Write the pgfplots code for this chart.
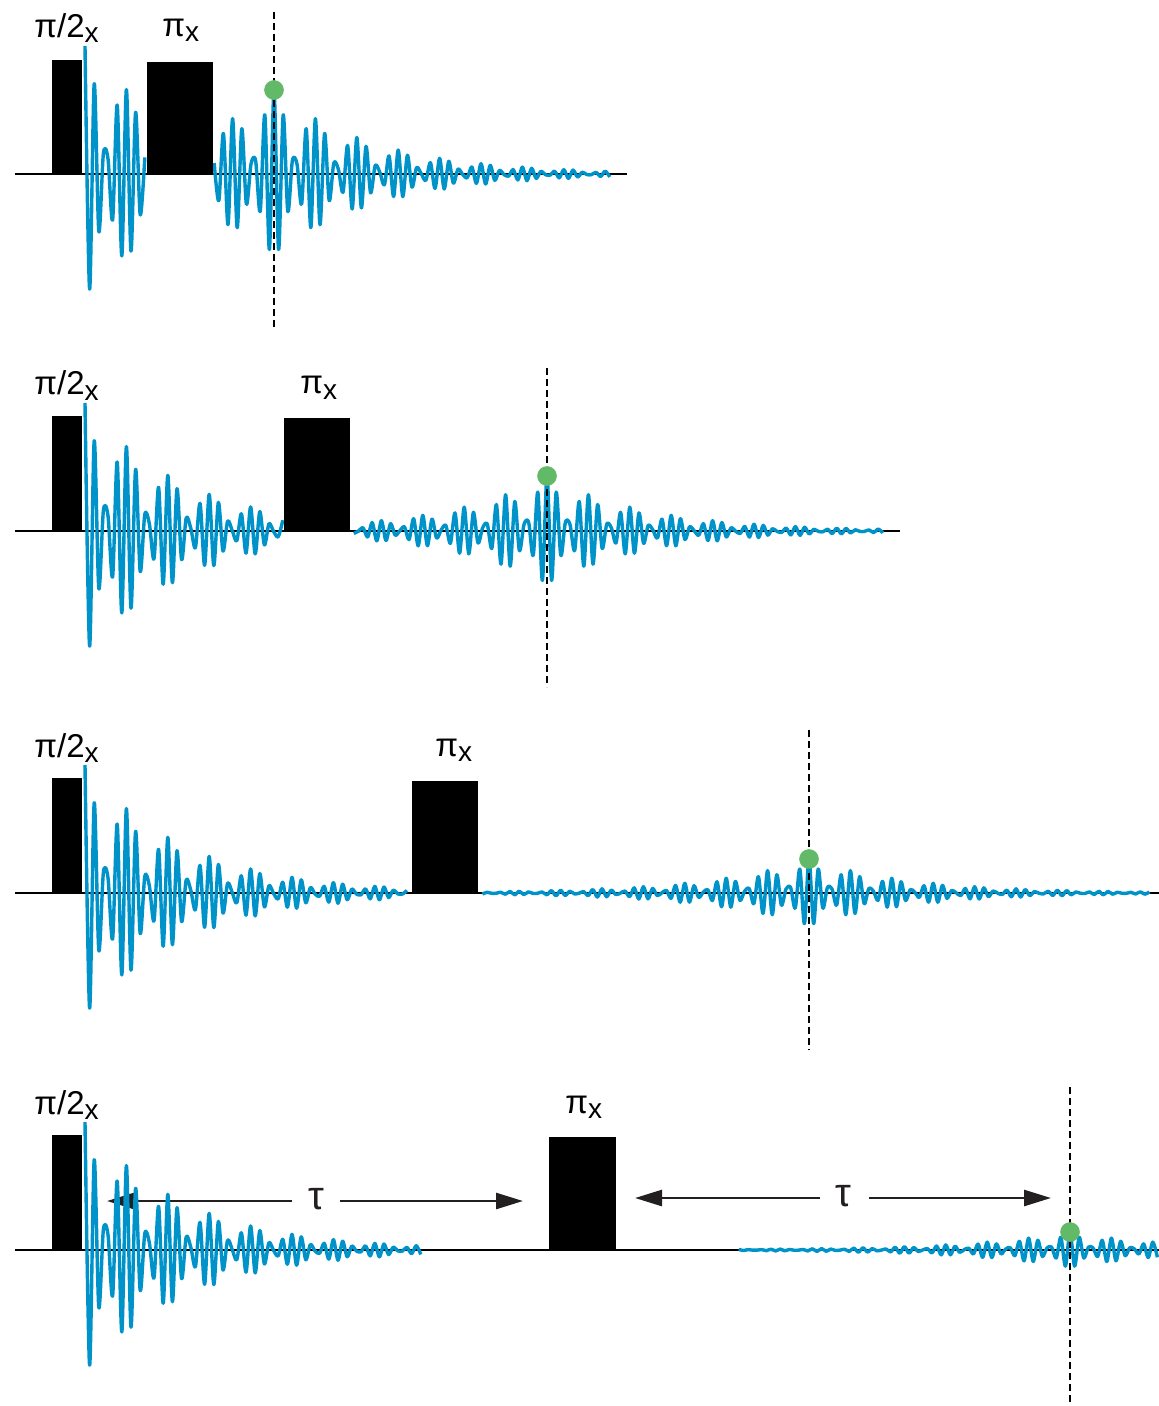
\documentclass[border=0pt]{standalone}
\usepackage{fontspec}
\setmainfont{Liberation Sans}
\usepackage{pgfplots}
\pgfplotsset{compat=1.18}
\usepackage{pgfplotstable}
\usetikzlibrary{arrows.meta}
\definecolor{sig}{RGB}{0,147,201}
\definecolor{dotc}{RGB}{98,186,104}
\definecolor{arr}{RGB}{35,31,32}
\newcommand\lbl{\fontsize{16.5}{19}\selectfont}
\newcommand\taufont{\fontsize{20}{22}\selectfont}
\newcommand\sub[1]{\raisebox{-2.5pt}{\fontsize{14}{16}\selectfont #1}}
\pgfplotstableread[row sep=\\]{
t v\\
-345 -0.025\\ -340.4 0.031\\ -335.8 -0.035\\ -331.2 0.034\\ -326.6 -0.029\\ -322 0.020\\
-317.4 -0.008\\ -312.8 -0.007\\ -308.2 0.022\\ -303.6 -0.036\\ -299 0.047\\ -294.4 -0.053\\
-289.8 0.052\\ -285.2 -0.046\\ -280.6 0.033\\ -276 -0.014\\ -271.4 -0.008\\ -266.8 0.031\\
-262.2 -0.053\\ -257.6 0.069\\ -253 -0.080\\ -248.4 0.081\\ -243.8 -0.071\\ -239.2 0.053\\
-234.6 -0.026\\ -230 -0.007\\ -225.4 0.043\\ -220.8 -0.076\\ -216.2 0.103\\ -211.6 -0.119\\
-207 0.123\\ -202.4 -0.111\\ -197.8 0.084\\ -193.2 -0.045\\ -188.6 -0.004\\ -184 0.058\\
-179.4 -0.109\\ -174.8 0.152\\ -170.2 -0.179\\ -165.6 0.188\\ -161 -0.173\\ -156.4 0.135\\
-151.8 -0.077\\ -147.2 0.004\\ -142.6 0.077\\ -138 -0.157\\ -133.4 0.224\\ -128.8 -0.270\\
-124.2 0.286\\ -119.6 -0.268\\ -115 0.216\\ -110.4 -0.130\\ -105.8 0.021\\ -101.2 0.102\\
-96.6 -0.224\\ -92 0.330\\ -87.4 -0.404\\ -82.8 0.435\\ -78.2 -0.416\\ -73.6 0.341\\
-69 -0.218\\ -64.4 0.055\\ -59.8 0.130\\ -55.2 -0.317\\ -50.6 0.482\\ -46 -0.603\\
-41.4 0.660\\ -36.8 -0.640\\ -32.2 0.539\\ -27.6 -0.360\\ -23 0.119\\ -18.4 0.161\\
-13.8 -0.447\\ -9.2 0.705\\ -4.6 -0.899\\
0 1.000\\
4.6 -0.899\\ 9.2 0.705\\ 13.8 -0.447\\ 18.4 0.161\\ 23 0.119\\ 27.6 -0.360\\
32.2 0.539\\ 36.8 -0.640\\ 41.4 0.660\\ 46 -0.603\\ 50.6 0.482\\ 55.2 -0.317\\
59.8 0.130\\ 64.4 0.055\\ 69 -0.218\\ 73.6 0.341\\ 78.2 -0.416\\ 82.8 0.435\\
87.4 -0.404\\ 92 0.330\\ 96.6 -0.224\\ 101.2 0.102\\ 105.8 0.021\\ 110.4 -0.130\\
115 0.216\\ 119.6 -0.268\\ 124.2 0.286\\ 128.8 -0.270\\ 133.4 0.224\\ 138 -0.157\\
142.6 0.077\\ 147.2 0.004\\ 151.8 -0.077\\ 156.4 0.135\\ 161 -0.173\\ 165.6 0.188\\
170.2 -0.179\\ 174.8 0.152\\ 179.4 -0.109\\ 184 0.058\\ 188.6 -0.004\\ 193.2 -0.045\\
197.8 0.084\\ 202.4 -0.111\\ 207 0.123\\ 211.6 -0.119\\ 216.2 0.103\\ 220.8 -0.076\\
225.4 0.043\\ 230 -0.007\\ 234.6 -0.026\\ 239.2 0.053\\ 243.8 -0.071\\ 248.4 0.081\\
253 -0.080\\ 257.6 0.069\\ 262.2 -0.053\\ 266.8 0.031\\ 271.4 -0.008\\ 276 -0.014\\
280.6 0.033\\ 285.2 -0.046\\ 289.8 0.052\\ 294.4 -0.053\\ 299 0.047\\ 303.6 -0.036\\
308.2 0.022\\ 312.8 -0.007\\ 317.4 -0.008\\ 322 0.020\\ 326.6 -0.029\\ 331.2 0.034\\
335.8 -0.035\\ 340.4 0.031\\ 345 -0.025\\
}\echo
\begin{document}
\begin{tikzpicture}
\begin{axis}[
  width=579.5pt, height=703pt, scale only axis,
  xmin=0, xmax=1159, ymin=0, ymax=1406, y dir=reverse,
  hide axis, clip=false,
  sigline/.style={sig, line width=1.7pt, line join=round, smooth},
  base/.style={black, line width=1pt},
  pulse/.style={fill=black, draw=none},
  dline/.style={black, line width=0.8pt, dash pattern=on 3.5pt off 2pt},
  echodot/.style={only marks, mark=*, mark size=4.7pt, mark options={fill=dotc, draw=dotc}},
]
% ---------- panel 1 ----------
\addplot[base] coordinates {(15,174) (627,174)};
\addplot[sigline, restrict expr to domain={\thisrow{t}}{-0.1:60}] table[x expr=85+\thisrow{t}, y expr=174-128*\thisrow{v}] {\echo};
\addplot[sigline, restrict expr to domain={\thisrow{t}}{-61:336}] table[x expr=274+\thisrow{t}, y expr=174-84*\thisrow{v}] {\echo};
\addplot[pulse] coordinates {(52,174) (52,60) (82,60) (82,174)} --cycle;
\addplot[pulse] coordinates {(147,174) (147,62) (213,62) (213,174)} --cycle;
\addplot[dline] coordinates {(274,12) (274,330)};
\addplot[echodot] coordinates {(274,90)};
\node[anchor=base west, inner sep=0pt, font=\lbl] at (axis cs:34,38) {π/2\sub{x}};
\node[anchor=base west, inner sep=0pt, font=\lbl] at (axis cs:162,37) {π\sub{x}};
% ---------- panel 2 ----------
\addplot[base] coordinates {(15,531) (900,531)};
\addplot[sigline, restrict expr to domain={\thisrow{t}}{-0.1:198}] table[x expr=85+\thisrow{t}, y expr=531-128*\thisrow{v}] {\echo};
\addplot[sigline, restrict expr to domain={\thisrow{t}}{-197:338}] table[x expr=547+\thisrow{t}, y expr=531-55*\thisrow{v}] {\echo};
\addplot[pulse] coordinates {(52,531) (52,416) (82,416) (82,531)} --cycle;
\addplot[pulse] coordinates {(284,531) (284,418) (350,418) (350,531)} --cycle;
\addplot[dline] coordinates {(547,368) (547,687)};
\addplot[echodot] coordinates {(547,476)};
\node[anchor=base west, inner sep=0pt, font=\lbl] at (axis cs:34,395) {π/2\sub{x}};
\node[anchor=base west, inner sep=0pt, font=\lbl] at (axis cs:300,394) {π\sub{x}};
% ---------- panel 3 ----------
\addplot[base] coordinates {(15,893) (1159,893)};
\addplot[sigline, restrict expr to domain={\thisrow{t}}{-0.1:326}] table[x expr=85+\thisrow{t}, y expr=893-128*\thisrow{v}] {\echo};
\addplot[sigline, restrict expr to domain={\thisrow{t}}{-331:341}] table[x expr=809+\thisrow{t}, y expr=893-34*\thisrow{v}] {\echo};
\addplot[pulse] coordinates {(52,893) (52,778) (82,778) (82,893)} --cycle;
\addplot[pulse] coordinates {(412,893) (412,781) (478,781) (478,893)} --cycle;
\addplot[dline] coordinates {(809,730) (809,1050)};
\addplot[echodot] coordinates {(809,859)};
\node[anchor=base west, inner sep=0pt, font=\lbl] at (axis cs:34,757) {π/2\sub{x}};
\node[anchor=base west, inner sep=0pt, font=\lbl] at (axis cs:435,756) {π\sub{x}};
% ---------- panel 4 ----------
\addplot[base] coordinates {(15,1250) (1159,1250)};
\draw[arr, line width=1.3pt, -{Triangle[length=13.5pt, width=8pt]}] (axis cs:292,1201) -- (axis cs:107,1201);
\draw[arr, line width=1.3pt, -{Triangle[length=13.5pt, width=8pt]}] (axis cs:340,1201) -- (axis cs:523,1201);
\draw[arr, line width=1.3pt, -{Triangle[length=13.5pt, width=8pt]}] (axis cs:820,1198) -- (axis cs:635,1198);
\draw[arr, line width=1.3pt, -{Triangle[length=13.5pt, width=8pt]}] (axis cs:869,1198) -- (axis cs:1051,1198);
\node[inner sep=0pt, font=\taufont, text=arr] at (axis cs:316,1199) {τ};
\node[inner sep=0pt, font=\taufont, text=arr] at (axis cs:843,1196) {τ};
\addplot[sigline, restrict expr to domain={\thisrow{t}}{-0.1:336}] table[x expr=85+\thisrow{t}, y expr=1250-128*\thisrow{v}] {\echo};
\addplot[sigline, restrict expr to domain={\thisrow{t}}{-335:89}] table[x expr=1070+\thisrow{t}, y expr=1250-18*\thisrow{v}] {\echo};
\addplot[pulse] coordinates {(52,1250) (52,1135) (82,1135) (82,1250)} --cycle;
\addplot[pulse] coordinates {(549,1250) (549,1137) (616,1137) (616,1250)} --cycle;
\addplot[dline] coordinates {(1070,1087) (1070,1406)};
\addplot[echodot] coordinates {(1070,1232)};
\node[anchor=base west, inner sep=0pt, font=\lbl] at (axis cs:34,1114) {π/2\sub{x}};
\node[anchor=base west, inner sep=0pt, font=\lbl] at (axis cs:565,1113) {π\sub{x}};
\end{axis}
\pgfresetboundingbox
\path (current axis.south west) rectangle (current axis.north east);
\end{tikzpicture}
\end{document}
